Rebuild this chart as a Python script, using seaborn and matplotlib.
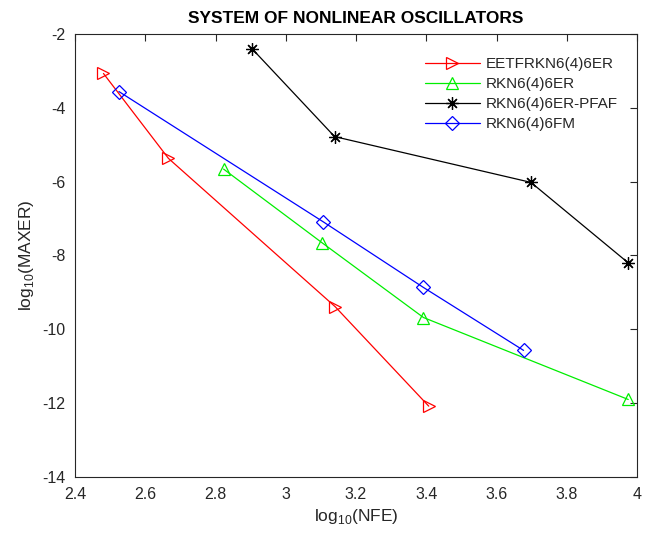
import matplotlib
matplotlib.use("Agg")
import matplotlib.pyplot as plt
import seaborn as sns
import pandas as pd

sns.set_style("white")
plt.rcParams['font.family'] = ['Liberation Sans', 'DejaVu Sans']
plt.rcParams['mathtext.fontset'] = 'custom'
plt.rcParams['mathtext.rm'] = 'Liberation Sans'
plt.rcParams['axes.unicode_minus'] = False

title = "SYSTEM OF NONLINEAR OSCILLATORS"
series_names = ["EETFRKN6(4)6ER", "RKN6(4)6ER", "RKN6(4)6ER-PFAF", "RKN6(4)6FM"]

x_eetf = [2.481, 2.666, 3.141, 3.407]
y_eetf = [-3.07, -5.37, -9.39, -12.08]
x_rkn_er = [2.823, 3.104, 3.392, 3.975]
y_rkn_er = [-5.66, -7.66, -9.68, -11.90]
x_pfaf = [2.905, 3.139, 3.698, 3.975]
y_pfaf = [-2.41, -4.78, -6.02, -8.20]
x_fm = [2.525, 3.107, 3.391, 3.677]
y_fm = [-3.56, -7.09, -8.86, -10.57]

xs = [x_eetf, x_rkn_er, x_pfaf, x_fm]
ys = [y_eetf, y_rkn_er, y_pfaf, y_fm]
colors = ["#ff0000", "#00ee00", "#000000", "#0000ff"]
markers = [">", "^", (8, 2, 0), "D"]
msizes = [9, 9, 9, 7]

xticks = [2.4, 2.6, 2.8, 3.0, 3.2, 3.4, 3.6, 3.8, 4.0]
xticklabels = ["2.4", "2.6", "2.8", "3", "3.2", "3.4", "3.6", "3.8", "4"]
yticks = [-14, -12, -10, -8, -6, -4, -2]

fig = plt.figure(figsize=(6.46, 5.39), dpi=100)
ax = fig.add_axes([0.1161, 0.115, 0.870, 0.822])

for name, x, y, c, m, ms in zip(series_names, xs, ys, colors, markers, msizes):
    df = pd.DataFrame({"x": x, "y": y})
    sns.lineplot(data=df, x="x", y="y", ax=ax, color=c, marker=m, markersize=ms,
                 markerfacecolor="none", markeredgecolor=c, markeredgewidth=0.9,
                 linewidth=0.9, sort=False, label=name)

ax.set_xlim(2.4, 4.0)
ax.set_ylim(-14, -2)
ax.set_xticks(xticks)
ax.set_xticklabels(xticklabels)
ax.set_yticks(yticks)
ax.tick_params(direction="in", top=True, right=True, length=5, width=0.8,
               labelsize=11.5, colors="#262626", pad=7)
for s in ax.spines.values():
    s.set_visible(True)
    s.set_color("#262626")
    s.set_linewidth(0.8)

ax.set_xlabel(r"log$_{10}$(NFE)", fontsize=12.5, color="#262626")
ax.set_ylabel(r"log$_{10}$(MAXER)", fontsize=12.5, color="#262626")
ax.set_title(title, fontsize=12.5, fontweight="bold", color="#000000", pad=8)

leg = ax.legend(loc="upper left", bbox_to_anchor=(0.622, 0.948), frameon=False,
                fontsize=11, handlelength=3.6, handletextpad=0.4, labelspacing=0.4,
                borderaxespad=0, borderpad=0)
for t in leg.get_texts():
    t.set_color("#262626")

fig.savefig("out.png", dpi=100)
